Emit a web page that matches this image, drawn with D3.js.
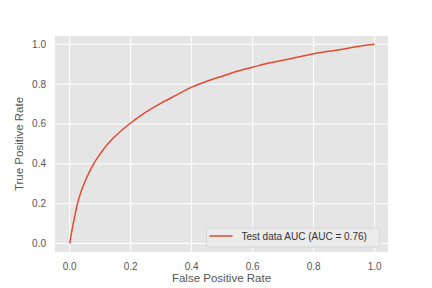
<!DOCTYPE html>
<html>
<head>
<meta charset="utf-8">
<script src="https://cdn.jsdelivr.net/npm/d3@7"></script>
<style>
  body { margin: 0; background: #fff; }
  text { font-family: "Liberation Sans", Arial, sans-serif; }
</style>
</head>
<body>
<svg id="chart" width="432" height="288"></svg>
<script>
// ROC curve points
const fpr = [0, 0.01, 0.02, 0.03, 0.05, 0.075, 0.1, 0.125, 0.15, 0.2, 0.25, 0.3, 0.35, 0.4,
  0.45, 0.5, 0.55, 0.6, 0.65, 0.7, 0.75, 0.8, 0.85, 0.9, 0.95, 1.0];
const tpr = [0, 0.085, 0.16, 0.225, 0.31, 0.39, 0.45, 0.5, 0.54, 0.605, 0.66, 0.705, 0.745, 0.785,
  0.815, 0.84, 0.865, 0.885, 0.905, 0.92, 0.937, 0.953, 0.965, 0.977, 0.99, 1.0];
const xTicks = [0.0, 0.2, 0.4, 0.6, 0.8, 1.0];
const yTicks = [0.0, 0.2, 0.4, 0.6, 0.8, 1.0];
const seriesLabel = "Test data AUC (AUC = 0.76)";

const svg = d3.select("#chart");
const box = {left: 55, right: 388, top: 36, bottom: 252};

const x = d3.scaleLinear().domain([-0.048, 1.044]).range([box.left, box.right]);
const y = d3.scaleLinear().domain([-0.043, 1.042]).range([box.bottom, box.top]);

// axes background
svg.append("rect")
  .attr("x", box.left).attr("y", box.top)
  .attr("width", box.right - box.left).attr("height", box.bottom - box.top)
  .attr("fill", "#e5e5e5");

// grid
svg.append("g").selectAll("line").data(xTicks).join("line")
  .attr("x1", d => x(d)).attr("x2", d => x(d))
  .attr("y1", box.top).attr("y2", box.bottom)
  .attr("stroke", "#fff").attr("stroke-width", 1);
svg.append("g").selectAll("line").data(yTicks).join("line")
  .attr("y1", d => y(d)).attr("y2", d => y(d))
  .attr("x1", box.left).attr("x2", box.right)
  .attr("stroke", "#fff").attr("stroke-width", 1);

// tick labels
svg.append("g").selectAll("text").data(xTicks).join("text")
  .attr("x", d => x(d)).attr("y", 270)
  .attr("text-anchor", "middle")
  .attr("font-size", 10).attr("fill", "#555")
  .text(d => d.toFixed(1));
svg.append("g").selectAll("text").data(yTicks).join("text")
  .attr("x", 46).attr("y", d => y(d))
  .attr("dy", "0.35em")
  .attr("text-anchor", "end")
  .attr("font-size", 10).attr("fill", "#555")
  .text(d => d.toFixed(1));

// axis titles
svg.append("text")
  .attr("x", (box.left + box.right) / 2).attr("y", 282)
  .attr("text-anchor", "middle")
  .attr("font-size", 11.5).attr("fill", "#555")
  .text("False Positive Rate");
svg.append("text")
  .attr("transform", `translate(23,${(box.top + box.bottom) / 2}) rotate(-90)`)
  .attr("text-anchor", "middle")
  .attr("font-size", 11.5).attr("fill", "#555")
  .text("True Positive Rate");

// curve
const pts = fpr.map((f, i) => [f, tpr[i]]);
svg.append("path")
  .datum(pts)
  .attr("fill", "none")
  .attr("stroke", "#e24a33")
  .attr("stroke-width", 1.5)
  .attr("d", d3.line().x(d => x(d[0])).y(d => y(d[1])).curve(d3.curveCatmullRom));

// legend
const lg = svg.append("g");
lg.append("rect")
  .attr("x", 206.5).attr("y", 228).attr("width", 173).attr("height", 19)
  .attr("rx", 2.5)
  .attr("fill", "#ebebeb").attr("fill-opacity", 0.9)
  .attr("stroke", "#d0d0d0").attr("stroke-width", 0.8);
lg.append("line")
  .attr("x1", 209.5).attr("x2", 232.5).attr("y1", 236).attr("y2", 236)
  .attr("stroke", "#e24a33").attr("stroke-width", 1.5);
lg.append("text")
  .attr("x", 241.5).attr("y", 236).attr("dy", "0.35em")
  .attr("font-size", 10).attr("fill", "#333")
  .text(seriesLabel);
</script>
</body>
</html>
